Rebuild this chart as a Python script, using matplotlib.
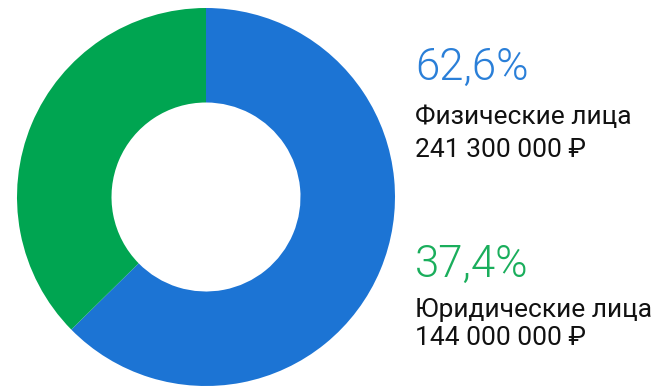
import matplotlib.pyplot as plt

plt.rcParams['font.family'] = ['Roboto', 'DejaVu Sans']

# доли по типу плательщика
labels = ['Физические лица', 'Юридические лица']
amounts = [241300000, 144000000]
shares = [62.6, 37.4]
colors = ['#1c74d4', '#00a551']
text_colors = ['#2a7fd8', '#1aae5c']

W, H = 661, 386
fig = plt.figure(figsize=(W / 100, H / 100), dpi=100)

# кольцевая диаграмма: центр (206, 197), радиус 189 px
ax = fig.add_axes([17 / W, (H - 386) / H, 378 / W, 378 / H])
ax.pie(amounts, colors=colors, startangle=90, counterclock=False,
       radius=1.0, wedgeprops=dict(width=0.5, linewidth=0))
ax.set_xlim(-1, 1)
ax.set_ylim(-1, 1)
ax.set_aspect('equal')
ax.axis('off')


def fmt_money(v):
    return f'{v:,}'.replace(',', ' ') + ' ₽'


def fmt_share(v):
    return f'{v:.1f}%'.replace('.', ',')


# подписи справа
blocks = [(80, 124, 157), (277, 317, 345)]
for i, (y_pct, y_name, y_sum) in enumerate(blocks):
    fig.text(415 / W, 1 - y_pct / H, fmt_share(shares[i]), color=text_colors[i],
             fontsize=31.5, fontweight=300, va='baseline', ha='left')
    fig.text(415 / W, 1 - y_name / H, labels[i], color='#111111',
             fontsize=19, va='baseline', ha='left')
    fig.text(415 / W, 1 - y_sum / H, fmt_money(amounts[i]), color='#111111',
             fontsize=19, va='baseline', ha='left')

fig.savefig('out.png', dpi=100)
